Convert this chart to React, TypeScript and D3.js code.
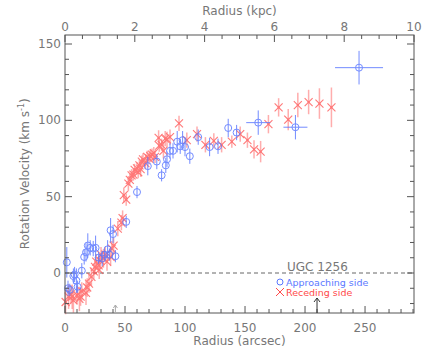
import React from "react";
import * as d3 from "d3";

// Approaching side: [radius arcsec, velocity, yerr, xerr]
const approachR = [1.5, 2.5, 4, 7, 8, 9.5, 10.5, 14, 16, 17.5, 19, 21, 23.5, 25.5, 28, 31, 33, 35.5, 37, 38, 40, 42, 51, 60, 69, 76.5, 80.5, 84, 85, 87.5, 90, 93.5, 96, 98, 100, 104, 111, 120.5, 127.5, 136, 143, 161, 192, 245];
const approachV = [7, -10, -11, -2, -1, -5, -9, 1.5, 10.5, 13.5, 18, 16.5, 16, 16.5, 10, 9.5, 12, 15.5, 12, 28, 25.5, 11, 33.5, 53, 70, 73, 64, 70.5, 74.5, 80, 80, 86, 83, 87, 82.5, 76.5, 89, 82.5, 83, 95, 92, 98.5, 95.5, 134.5];
const approachErr = [10, 5, 4, 5, 5, 8, 4, 5, 5, 6, 8, 5, 5, 8, 4, 5, 4, 6, 4, 8, 6, 4, 4, 4, 6, 5, 4, 5, 5, 5, 5, 7, 5, 6, 6, 5, 5, 6, 5, 6, 5, 8, 8, 11];
const approachXErr = [0, 0, 0, 0, 0, 0, 0, 0, 0, 0, 0, 0, 0, 0, 0, 0, 0, 0, 0, 0, 0, 0, 0, 0, 0, 0, 0, 0, 0, 0, 0, 0, 0, 0, 0, 0, 0, 0, 0, 0, 0, 10, 10, 20];

// Receding side
const recedeR = [0.5, 3, 5, 6, 7, 10, 12, 13, 14, 17.5, 18.5, 20, 22, 24, 25, 26, 28, 28.5, 29.5, 30, 32, 33.5, 35, 38, 39, 40.5, 44, 47, 48, 49, 51, 52.8, 54, 55.5, 57, 58, 60, 61, 62, 63, 64, 65, 67, 68.5, 70, 71, 72.5, 74, 75, 78, 78.5, 80.5, 82, 83.5, 85, 87.5, 95, 101.5, 110, 117, 124, 130.5, 139, 146, 152, 157.5, 163, 169.5, 178, 186, 194, 203, 212, 222];
const recedeV = [-19, -15.5, -14, -15.5, -18, -14.5, -17, -15.5, -12, -13, -9.5, -7, -2.5, 1, 4, 7.5, 5, 2, 8, 12, 9.5, 12, 7.5, 10.5, 16, 18, 29, 33, 36, 51, 48, 58.5, 61, 64, 64.5, 67.5, 68.5, 66, 70.5, 68, 73, 74.5, 72, 76, 75, 76.5, 77.5, 78.5, 76, 88.5, 83.5, 84, 80, 88, 87.5, 89, 98, 87, 91, 84, 86.5, 84, 86, 91, 87, 81, 79.5, 97.5, 108.5, 100.5, 110, 112, 111, 108.5];
const recedeErr = [8, 8, 6, 8, 8, 6, 8, 6, 6, 8, 6, 6, 6, 5, 5, 5, 5, 6, 5, 5, 6, 5, 6, 6, 5, 5, 5, 5, 5, 5, 4, 5, 4, 4, 4, 4, 4, 4, 4, 5, 4, 4, 4, 4, 4, 4, 4, 4, 4, 5, 4, 4, 5, 5, 5, 5, 5, 5, 5, 5, 5, 5, 4, 5, 5, 6, 7, 6, 6, 7, 8, 8, 10, 13];

const bottomTicks = [0, 50, 100, 150, 200, 250];
const topTicks = [0, 2, 4, 6, 8, 10];
const leftTicks = [0, 50, 100, 150];

const W = 436, H = 349;
const M = { left: 65, right: 414, top: 35, bottom: 313 };

export default function App() {
  const x = d3.scaleLinear().domain([0, 290.8]).range([M.left, M.right]);
  const xk = d3.scaleLinear().domain([0, 10]).range([M.left, M.right]);
  const y = d3.scaleLinear().domain([-26.2, 155.9]).range([M.bottom, M.top]);

  const axisColor = "#555";
  const textColor = "#777";
  const blue = "#5b78ff";
  const red = "#ff4a4a";
  const font = "DejaVu Sans, Verdana, sans-serif";

  const minorX = d3.range(0, 291, 10);
  const minorK = d3.range(0, 10.01, 0.5);
  const minorY = d3.range(-20, 156, 10);

  const ticks: JSX.Element[] = [];
  minorX.forEach((v, i) => {
    const len = v % 50 === 0 ? 7 : 4;
    ticks.push(<line key={"b" + i} x1={x(v)} x2={x(v)} y1={M.bottom} y2={M.bottom - len} />);
  });
  minorK.forEach((v, i) => {
    const len = Math.abs(v % 2) < 1e-6 ? 7 : 4;
    ticks.push(<line key={"t" + i} x1={xk(v)} x2={xk(v)} y1={M.top} y2={M.top + len} />);
  });
  minorY.forEach((v, i) => {
    const len = v % 50 === 0 ? 7 : 4;
    ticks.push(<line key={"l" + i} x1={M.left} x2={M.left + len} y1={y(v)} y2={y(v)} />);
    ticks.push(<line key={"r" + i} x1={M.right} x2={M.right - len} y1={y(v)} y2={y(v)} />);
  });

  return (
    <svg width={W} height={H} style={{ position: "absolute", left: 0, top: 0, background: "#fff" }} fontFamily={font}>
      {/* zero line */}
      <line x1={M.left} x2={M.right} y1={y(0)} y2={y(0)} stroke="#666" strokeDasharray="4,3" strokeWidth={1} />

      {/* receding error bars + markers */}
      <g stroke={red} opacity={0.75}>
        {recedeR.map((r, i) => (
          <line key={"re" + i} x1={x(r)} x2={x(r)} y1={y(recedeV[i] - recedeErr[i])} y2={y(recedeV[i] + recedeErr[i])} strokeWidth={1.5} opacity={0.6} />
        ))}
        {recedeR.map((r, i) => {
          const cx = x(r), cy = y(recedeV[i]), s = 4;
          return (
            <g key={"rm" + i} strokeWidth={1.1}>
              <line x1={cx - s} x2={cx + s} y1={cy - s} y2={cy + s} />
              <line x1={cx - s} x2={cx + s} y1={cy + s} y2={cy - s} />
              <rect x={cx - 1} y={cy - 1} width={2} height={2} fill={red} stroke="none" />
            </g>
          );
        })}
      </g>

      {/* approaching error bars + markers */}
      <g stroke={blue} fill="none" opacity={0.85}>
        {approachR.map((r, i) => (
          <g key={"ae" + i} strokeWidth={1}>
            <line x1={x(r)} x2={x(r)} y1={y(approachV[i] - approachErr[i])} y2={y(approachV[i] + approachErr[i])} />
            {approachXErr[i] > 0 && (
              <line x1={x(r - approachXErr[i])} x2={x(r + approachXErr[i])} y1={y(approachV[i])} y2={y(approachV[i])} />
            )}
            <circle cx={x(r)} cy={y(approachV[i])} r={3.5} />
          </g>
        ))}
      </g>

      {/* frame */}
      <g stroke={axisColor} strokeWidth={1} fill="none">
        <rect x={M.left} y={M.top} width={M.right - M.left} height={M.bottom - M.top} />
        {ticks}
      </g>

      {/* tick labels */}
      <g fill={textColor} fontSize={12} textAnchor="middle">
        {bottomTicks.map((v) => (
          <text key={"bl" + v} x={x(v)} y={M.bottom + 19}>{v}</text>
        ))}
        {topTicks.map((v) => (
          <text key={"tl" + v} x={xk(v)} y={M.top - 4}>{v}</text>
        ))}
      </g>
      <g fill={textColor} fontSize={12} textAnchor="end">
        {leftTicks.map((v) => (
          <text key={"ll" + v} x={M.left - 4} y={y(v) + 4}>{v}</text>
        ))}
      </g>

      {/* axis titles */}
      <text x={(M.left + M.right) / 2} y={345} fill={textColor} fontSize={12} textAnchor="middle">Radius (arcsec)</text>
      <text x={(M.left + M.right) / 2} y={15} fill={textColor} fontSize={12} textAnchor="middle">Radius (kpc)</text>
      <text transform={`translate(29,${y(65)}) rotate(-90)`} fill={textColor} fontSize={12} textAnchor="middle">
        Rotation Velocity (km s<tspan dy={-5} fontSize={8}>-1</tspan><tspan dy={5}>)</tspan>
      </text>

      {/* legend */}
      <text x={287} y={271} fill={textColor} fontSize={12}>UGC 1256</text>
      <circle cx={280} cy={282} r={3} stroke={blue} fill="none" />
      <text x={286} y={285.5} fill={blue} fontSize={9.5}>Approaching side</text>
      <g stroke={red} strokeWidth={1}>
        <line x1={276} x2={284} y1={288} y2={296} />
        <line x1={276} x2={284} y1={296} y2={288} />
      </g>
      <text x={286} y={296} fill={red} fontSize={9.5}>Receding side</text>

      {/* arrows */}
      <g stroke="#333" fill="none">
        <line x1={x(210)} x2={x(210)} y1={M.bottom} y2={M.bottom - 15} />
        <polyline points={`${x(210) - 3},${M.bottom - 11} ${x(210)},${M.bottom - 15} ${x(210) + 3},${M.bottom - 11}`} />
      </g>
      <g stroke="#aaa" fill="none">
        <line x1={x(42)} x2={x(42)} y1={M.bottom} y2={M.bottom - 8} />
        <polyline points={`${x(42) - 2},${M.bottom - 5} ${x(42)},${M.bottom - 8} ${x(42) + 2},${M.bottom - 5}`} />
      </g>
    </svg>
  );
}
